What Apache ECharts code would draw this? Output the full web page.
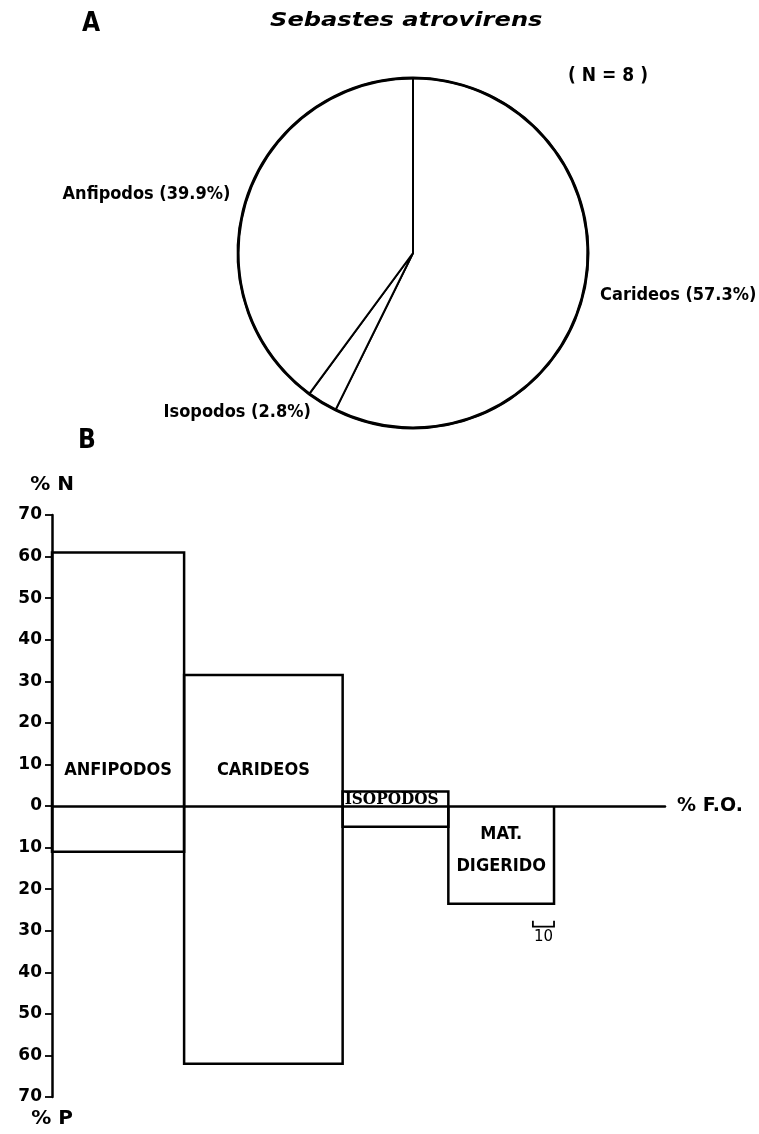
<!DOCTYPE html>
<html><head><meta charset="utf-8">
<script src="https://cdn.jsdelivr.net/npm/echarts@6/dist/echarts.min.js"></script>
<style>html,body{margin:0;padding:0;background:#fff}#main{width:759px;height:1134px}</style>
</head><body><div id="main"></div>
<script>
// ---- Data ----
const pieNames = ['Carideos', 'Isopodos', 'Anfipodos'];
const pieValues = [57.3, 2.8, 39.9];
const sampleLabel = '( N = 8 )';

const barCategories = ['ANFIPODOS', 'CARIDEOS', 'ISOPODOS', 'MAT.\nDIGERIDO'];
const freqOcc = [62.5, 75, 50, 50];   // % F.O. (bar widths)
const pctN = [61, 31.5, 3.5, 0];      // % N (upwards)
const pctP = [11, 62, 5, 23.5];       // % P (downwards)
const yMin = -70, yMax = 70, yStep = 10;
const scaleBarFO = 10;
const scaleBarLabel = '10';

// ---- Build ----
const CF = '"DejaVu Sans Condensed", "DejaVu Sans", sans-serif';
const starts = [];
let acc = 0;
freqOcc.forEach(f => { starts.push(acc); acc += f; });
const barData = freqOcc.map((f, i) => [starts[i], starts[i] + f, pctN[i], pctP[i]]);
const totalFO = acc;

function renderBar(params, api) {
  const i = params.dataIndex;
  const x0 = api.value(0), x1 = api.value(1), n = api.value(2), p = api.value(3);
  const a = api.coord([x0, 0]), b = api.coord([x1, 0]);
  const t = api.coord([x0, n]), d = api.coord([x0, -p]);
  const st = { fill: 'none', stroke: '#000', lineWidth: 2.5, lineJoin: 'miter' };
  const ch = [];
  if (n > 0) ch.push({ type: 'polyline', shape: { points: [[a[0], a[1]], [a[0], t[1]], [b[0], t[1]], [b[0], b[1]]] }, style: st });
  ch.push({ type: 'polyline', shape: { points: [[a[0], a[1]], [a[0], d[1]], [b[0], d[1]], [b[0], b[1]]] }, style: st });
  const name = barCategories[i];
  const cx = (a[0] + b[0]) / 2;
  if (n >= 10) {
    ch.push({ type: 'text', x: cx, y: a[1] - 36, style: { text: name, font: 'bold 18px ' + CF, fill: '#000', align: 'center', verticalAlign: 'middle' } });
  } else if (n > 0) {
    ch.push({ type: 'text', x: a[0] + 2, y: (a[1] + t[1]) / 2 + 1, style: { text: name, font: 'bold 17px "DejaVu Serif Condensed", "DejaVu Serif", serif', fill: '#000', align: 'left', verticalAlign: 'middle' } });
  } else {
    ch.push({ type: 'text', x: cx, y: a[1] + 12, style: { text: name, font: 'bold 18px ' + CF, fill: '#000', align: 'center', verticalAlign: 'top', lineHeight: 32 } });
  }
  return { type: 'group', children: ch };
}

function renderScale(params, api) {
  const x0 = api.value(0), x1 = api.value(1), p = api.value(2);
  const a = api.coord([x0, -p]), b = api.coord([x1, -p]);
  const y = a[1] + 23;
  return { type: 'group', children: [
    { type: 'polyline', shape: { points: [[a[0], y - 6], [a[0], y], [b[0], y], [b[0], y - 6]] }, style: { fill: 'none', stroke: '#000', lineWidth: 1.8 } },
    { type: 'text', x: (a[0] + b[0]) / 2, y: y + 3, style: { text: scaleBarLabel, font: '15px "DejaVu Sans", sans-serif', fill: '#000', align: 'center', verticalAlign: 'top' } }
  ] };
}

const chart = echarts.init(document.getElementById('main'), null, { renderer: 'canvas' });
chart.setOption({
  animation: false,
  backgroundColor: '#fff',
  graphic: [
    { type: 'text', x: 82, y: 24, style: { text: 'A', font: 'bold 26px ' + CF, fill: '#000', verticalAlign: 'middle' } },
    { type: 'text', x: 270, y: 21, scaleX: 1.27, style: { text: 'Sebastes atrovirens', font: 'italic bold 19px "DejaVu Sans", sans-serif', fill: '#000', verticalAlign: 'middle' } },
    { type: 'text', x: 608, y: 76, style: { text: sampleLabel, font: 'bold 19px ' + CF, fill: '#000', align: 'center', verticalAlign: 'middle' } },
    { type: 'text', x: 78, y: 441, style: { text: 'B', font: 'bold 26px ' + CF, fill: '#000', verticalAlign: 'middle' } }
  ],
  grid: { left: 52, right: 94, top: 515, bottom: 37, containLabel: false },
  xAxis: {
    type: 'value', min: 0, max: 290,
    axisLine: { show: true, onZero: true, lineStyle: { color: '#000', width: 2.5 } },
    axisTick: { show: false }, axisLabel: { show: false }, splitLine: { show: false },
    name: '% F.O.', nameLocation: 'end', nameGap: 12,
    nameTextStyle: { color: '#000', fontFamily: '"DejaVu Sans", sans-serif', fontWeight: 'bold', fontSize: 19 }
  },
  yAxis: [{
    type: 'value', min: yMin, max: yMax, interval: yStep, position: 'left',
    axisLine: { show: true, onZero: false, lineStyle: { color: '#000', width: 2.5 } },
    axisTick: { show: true, length: 7, lineStyle: { color: '#000', width: 1.8 } },
    axisLabel: { color: '#000', fontFamily: '"DejaVu Sans", sans-serif', fontWeight: 'bold', fontSize: 17, margin: 10, formatter: v => String(Math.abs(v)) },
    splitLine: { show: false },
    name: '% N', nameLocation: 'end', nameGap: 20,
    nameTextStyle: { color: '#000', fontFamily: '"DejaVu Sans", sans-serif', fontWeight: 'bold', fontSize: 20, align: 'center' }
  }, {
    type: 'value', min: yMin, max: yMax, interval: yStep, position: 'left',
    axisLine: { show: false, onZero: false }, axisTick: { show: false }, axisLabel: { show: false }, splitLine: { show: false },
    name: '% P', nameLocation: 'start', nameGap: 12,
    nameTextStyle: { color: '#000', fontFamily: '"DejaVu Sans", sans-serif', fontWeight: 'bold', fontSize: 20, align: 'center' }
  }],
  series: [
    {
      type: 'pie', center: [413, 253], radius: 175, startAngle: 90, clockwise: true,
      avoidLabelOverlap: false, silent: true, z: 2,
      data: pieNames.map((n, i) => ({ name: n, value: pieValues[i] })),
      itemStyle: { color: '#fff', borderColor: '#000', borderWidth: 2 },
      label: { show: true, position: 'outside', formatter: '{b} ({c}%)', color: '#000', fontFamily: CF, fontWeight: 'bold', fontSize: 18 },
      labelLine: { show: false, length: 12, length2: 0 },
      emphasis: { disabled: true }
    },
    {
      type: 'pie', center: [413, 253], radius: [173.5, 176.5], startAngle: 90, clockwise: true,
      silent: true, z: 3,
      data: pieNames.map((n, i) => ({ name: n, value: pieValues[i] })),
      itemStyle: { color: '#000', borderWidth: 0 },
      label: { show: false }, labelLine: { show: false },
      emphasis: { disabled: true }
    },
    {
      type: 'custom', xAxisIndex: 0, yAxisIndex: 0, silent: true,
      renderItem: renderBar, data: barData, clip: false
    },
    {
      type: 'custom', xAxisIndex: 0, yAxisIndex: 0, silent: true,
      renderItem: renderScale, data: [[totalFO - scaleBarFO, totalFO, pctP[pctP.length - 1]]], clip: false
    }
  ]
});
</script></body></html>
